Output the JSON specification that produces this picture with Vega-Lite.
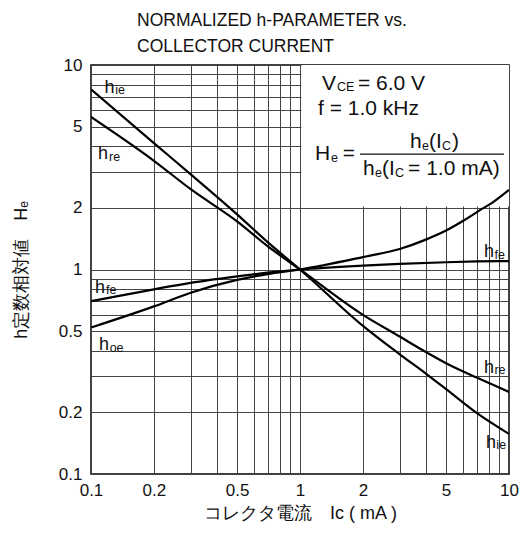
{
  "$schema": "https://vega.github.io/schema/vega-lite/v6.json",
  "width": 418,
  "height": 409,
  "autosize": "none",
  "padding": {"left": 91, "top": 65, "right": 15, "bottom": 63},
  "background": "white",
  "config": {
    "font": "Liberation Sans",
    "view": {"stroke": "black", "strokeWidth": 1.5},
    "axis": {"grid": true, "gridColor": "#444", "gridWidth": 1, "gridOpacity": 1, "ticks": false, "domain": false, "labelFont": "Liberation Sans", "labelFontSize": 17, "labelColor": "#111", "titleFont": "Liberation Sans", "titleFontSize": 18, "titleFontWeight": "normal", "titleColor": "#111"}
  },
  "title": {"text": ["NORMALIZED h-PARAMETER vs.", "COLLECTOR CURRENT"], "anchor": "start", "frame": "group", "dx": 46, "fontSize": 17.5, "fontWeight": "normal", "font": "Liberation Sans", "color": "#111", "lineHeight": 26, "offset": 1},
  "datasets": {
    "curves": [
      {"s": "hie", "x": 0.1, "y": 7.6}, {"s": "hie", "x": 0.2, "y": 4.15}, {"s": "hie", "x": 0.3, "y": 2.92}, {"s": "hie", "x": 0.5, "y": 1.86}, {"s": "hie", "x": 0.7, "y": 1.36}, {"s": "hie", "x": 1, "y": 1}, {"s": "hie", "x": 2, "y": 0.53}, {"s": "hie", "x": 3, "y": 0.385}, {"s": "hie", "x": 4, "y": 0.31}, {"s": "hie", "x": 5, "y": 0.26}, {"s": "hie", "x": 7, "y": 0.199}, {"s": "hie", "x": 10, "y": 0.157},
      {"s": "hre", "x": 0.1, "y": 5.57}, {"s": "hre", "x": 0.2, "y": 3.4}, {"s": "hre", "x": 0.3, "y": 2.47}, {"s": "hre", "x": 0.5, "y": 1.72}, {"s": "hre", "x": 0.7, "y": 1.3}, {"s": "hre", "x": 1, "y": 1}, {"s": "hre", "x": 2, "y": 0.6}, {"s": "hre", "x": 3, "y": 0.47}, {"s": "hre", "x": 4, "y": 0.395}, {"s": "hre", "x": 5, "y": 0.348}, {"s": "hre", "x": 7, "y": 0.296}, {"s": "hre", "x": 10, "y": 0.252},
      {"s": "hfe", "x": 0.1, "y": 0.7}, {"s": "hfe", "x": 0.2, "y": 0.8}, {"s": "hfe", "x": 0.3, "y": 0.86}, {"s": "hfe", "x": 0.5, "y": 0.925}, {"s": "hfe", "x": 0.7, "y": 0.965}, {"s": "hfe", "x": 1, "y": 1}, {"s": "hfe", "x": 2, "y": 1.045}, {"s": "hfe", "x": 3, "y": 1.065}, {"s": "hfe", "x": 5, "y": 1.085}, {"s": "hfe", "x": 7, "y": 1.095}, {"s": "hfe", "x": 10, "y": 1.1},
      {"s": "hoe", "x": 0.1, "y": 0.52}, {"s": "hoe", "x": 0.2, "y": 0.66}, {"s": "hoe", "x": 0.3, "y": 0.77}, {"s": "hoe", "x": 0.5, "y": 0.89}, {"s": "hoe", "x": 0.7, "y": 0.95}, {"s": "hoe", "x": 1, "y": 1}, {"s": "hoe", "x": 2, "y": 1.15}, {"s": "hoe", "x": 3, "y": 1.26}, {"s": "hoe", "x": 4, "y": 1.4}, {"s": "hoe", "x": 5, "y": 1.55}, {"s": "hoe", "x": 6.15, "y": 1.75}, {"s": "hoe", "x": 7.26, "y": 1.95}, {"s": "hoe", "x": 8.26, "y": 2.11}, {"s": "hoe", "x": 10, "y": 2.45}
    ],
    "box": [{"x": 1.015, "x2": 10, "y": 2.03, "y2": 10}],
    "fracline": [{"x": 1.936, "x2": 9.46, "y": 3.67}],
    "labelMain": [
      {"t": "h", "x": 0.116, "y": 7.32}, {"t": "h", "x": 0.108, "y": 3.46}, {"t": "h", "x": 0.1045, "y": 0.77}, {"t": "h", "x": 0.1092, "y": 0.404},
      {"t": "h", "x": 7.59, "y": 1.145}, {"t": "h", "x": 7.59, "y": 0.312}, {"t": "h", "x": 7.76, "y": 0.134}
    ],
    "labelSub": [
      {"t": "ie", "x": 0.1305, "y": 7.21}, {"t": "re", "x": 0.122, "y": 3.41}, {"t": "fe", "x": 0.118, "y": 0.759}, {"t": "oe", "x": 0.1228, "y": 0.397},
      {"t": "fe", "x": 8.52, "y": 1.128}, {"t": "re", "x": 8.52, "y": 0.3066}, {"t": "ie", "x": 8.7, "y": 0.1318}
    ],
    "noteMain": [
      {"t": "V", "x": 1.274, "y": 7.55}, {"t": "= 6.0 V", "x": 1.894, "y": 7.55}, {"t": "f = 1.0 kHz", "x": 1.219, "y": 5.69},
      {"t": "H", "x": 1.18, "y": 3.43}, {"t": "=", "x": 1.6, "y": 3.43},
      {"t": "h", "x": 3.36, "y": 3.93}, {"t": "(I", "x": 4.14, "y": 3.93}, {"t": ")", "x": 5.34, "y": 3.93},
      {"t": "h", "x": 2.0, "y": 2.9}, {"t": "(I", "x": 2.47, "y": 2.9}, {"t": "= 1.0 mA)", "x": 3.29, "y": 2.9}
    ],
    "noteSub": [
      {"t": "CE", "x": 1.503, "y": 7.46}, {"t": "e", "x": 1.407, "y": 3.36}, {"t": "e", "x": 3.835, "y": 3.84}, {"t": "C", "x": 4.78, "y": 3.84}, {"t": "e", "x": 2.285, "y": 2.83}, {"t": "C", "x": 2.848, "y": 2.83}
    ]
  },
  "layer": [
    {
      "data": {"name": "box"},
      "mark": {"type": "rect", "fill": "white", "stroke": null},
      "encoding": {
        "x": {"field": "x", "type": "quantitative", "scale": {"type": "log", "domain": [0.1, 10], "nice": false},
          "axis": {"values": [0.1, 0.2, 0.3, 0.4, 0.5, 0.6, 0.7, 0.8, 0.9, 1, 2, 3, 4, 5, 6, 7, 8, 9, 10], "format": "~g", "labelExpr": "indexof([0.1, 0.2, 0.5, 1, 2, 5, 10], datum.value) >= 0 ? datum.label : ''", "labelPadding": 8, "labelFlush": false, "labelOverlap": false, "title": "コレクタ電流　Iᴄ ( mA )", "titlePadding": 6}},
        "x2": {"field": "x2"},
        "y": {"field": "y", "type": "quantitative", "scale": {"type": "log", "domain": [0.1, 10], "nice": false},
          "axis": {"values": [0.1, 0.2, 0.3, 0.4, 0.5, 0.6, 0.7, 0.8, 0.9, 1, 2, 3, 4, 5, 6, 7, 8, 9, 10], "format": "~g", "labelExpr": "indexof([0.1, 0.2, 0.5, 1, 2, 5, 10], datum.value) >= 0 ? datum.label : ''", "labelPadding": 9, "labelFlush": false, "labelOverlap": false, "title": "h定数相対値　Hₑ", "titlePadding": 28}},
        "y2": {"field": "y2"}
      }
    },
    {
      "data": {"name": "curves"},
      "mark": {"type": "line", "color": "black", "strokeWidth": 2.2, "interpolate": "monotone", "clip": true},
      "encoding": {
        "x": {"field": "x", "type": "quantitative"},
        "y": {"field": "y", "type": "quantitative"},
        "detail": {"field": "s"}
      }
    },
    {
      "data": {"name": "fracline"},
      "mark": {"type": "rule", "color": "#111", "strokeWidth": 1.3},
      "encoding": {"x": {"field": "x", "type": "quantitative"}, "x2": {"field": "x2"}, "y": {"field": "y", "type": "quantitative"}}
    },
    {
      "data": {"name": "labelMain"},
      "mark": {"type": "text", "align": "left", "baseline": "alphabetic", "fontSize": 18, "color": "#111"},
      "encoding": {"x": {"field": "x", "type": "quantitative"}, "y": {"field": "y", "type": "quantitative"}, "text": {"field": "t"}}
    },
    {
      "data": {"name": "labelSub"},
      "mark": {"type": "text", "align": "left", "baseline": "alphabetic", "fontSize": 12.5, "color": "#111"},
      "encoding": {"x": {"field": "x", "type": "quantitative"}, "y": {"field": "y", "type": "quantitative"}, "text": {"field": "t"}}
    },
    {
      "data": {"name": "noteMain"},
      "mark": {"type": "text", "align": "left", "baseline": "alphabetic", "fontSize": 21, "color": "#111"},
      "encoding": {"x": {"field": "x", "type": "quantitative"}, "y": {"field": "y", "type": "quantitative"}, "text": {"field": "t"}}
    },
    {
      "data": {"name": "noteSub"},
      "mark": {"type": "text", "align": "left", "baseline": "alphabetic", "fontSize": 12.5, "color": "#111"},
      "encoding": {"x": {"field": "x", "type": "quantitative"}, "y": {"field": "y", "type": "quantitative"}, "text": {"field": "t"}}
    }
  ]
}
